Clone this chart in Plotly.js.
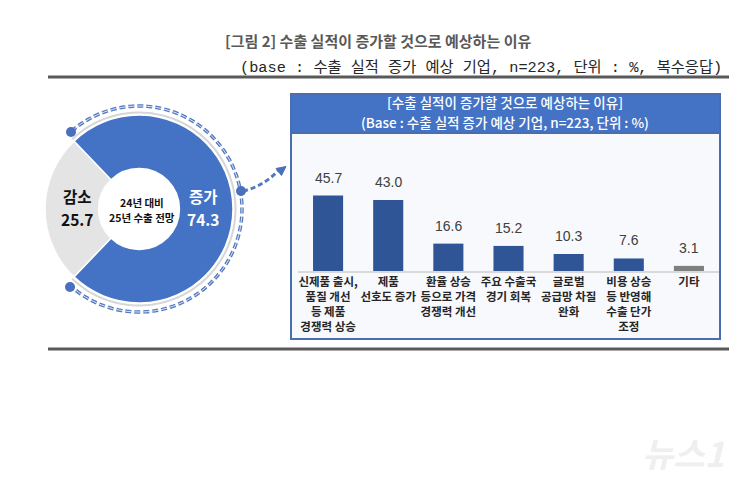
<!DOCTYPE html>
<html><head><meta charset="utf-8">
<script src="https://cdn.plot.ly/plotly-3.0.1.min.js"></script>
<style>html,body{margin:0;padding:0;background:#fff}#chart{width:753px;height:487px}</style>
</head><body><div id="chart"></div>
<script>
// ---- data ----
const donutLabels = ['감소', '증가'];
const donutValues = [25.7, 74.3];
const barCategories = [
  '신제품 출시,<br>품질 개선<br>등 제품<br>경쟁력 상승',
  '제품<br>선호도 증가',
  '환율 상승<br>등으로 가격<br>경쟁력 개선',
  '주요 수출국<br>경기 회복',
  '글로벌<br>공급망 차질<br>완화',
  '비용 상승<br>등 반영해<br>수출 단가<br>조정',
  '기타'
];
const barValues = [45.7, 43.0, 16.6, 15.2, 10.3, 7.6, 3.1];
const barColors = ['#2f5597','#2f5597','#2f5597','#2f5597','#2f5597','#2f5597','#7f7f7f'];
const mainTitle = '[그림 2] 수출 실적이 증가할 것으로 예상하는 이유';
const subTitle = '(base : 수출 실적 증가 예상 기업, n=223, 단위 : %, 복수응답)';
const panelTitle1 = '[수출 실적이 증가할 것으로 예상하는 이유]';
const panelTitle2 = '(Base : 수출 실적 증가 예상 기업, n=223, 단위 : %)';
const centerText1 = '24년 대비';
const centerText2 = '25년 수출 전망';

// ---- layout helpers (pixel -> paper) ----
const W = 753, H = 487;
const px = x => x / W, py = y => 1 - y / H;
const KR = '"Noto Sans CJK KR", "Noto Sans", sans-serif';

function arcPath(cx, cy, r, a0, a1, n) {
  let s = '';
  for (let i = 0; i <= n; i++) {
    const a = (a0 + (a1 - a0) * i / n) * Math.PI / 180;
    const x = cx + r * Math.cos(a), y = cy - r * Math.sin(a);
    s += (i ? 'L' : 'M') + px(x).toFixed(5) + ',' + py(y).toFixed(5);
  }
  return s;
}
function P(pts) { return pts.map((p, i) => (i ? 'L' : 'M') + px(p[0]).toFixed(5) + ',' + py(p[1]).toFixed(5)).join('') + 'Z'; }

const cx = 139, cy = 209, R = 94;
const half = donutValues[0] / 100 * 180;

const traces = [
  {
    type: 'pie', labels: donutLabels, values: donutValues, sort: false,
    direction: 'clockwise', rotation: 270 - half, hole: 0.43,
    marker: { colors: ['#e4e4e4', '#4472c4'], line: { color: '#ffffff', width: 1.5 } },
    textinfo: 'none', hoverinfo: 'none', showlegend: false,
    domain: { x: [px(cx - R), px(cx + R)], y: [py(cy + R), py(cy - R)] }
  },
  {
    type: 'bar', x: barCategories, y: barValues,
    marker: { color: barColors }, hoverinfo: 'none', showlegend: false,
    xaxis: 'x', yaxis: 'y'
  }
];

const shapes = [
  { type: 'line', xref: 'paper', yref: 'paper', x0: px(48), x1: px(729), y0: py(77), y1: py(77), line: { color: '#595959', width: 3 } },
  { type: 'line', xref: 'paper', yref: 'paper', x0: px(48), x1: px(729), y0: py(349), y1: py(349), line: { color: '#595959', width: 3 } },
  { type: 'rect', layer: 'below', xref: 'paper', yref: 'paper', x0: px(291), x1: px(720), y0: py(339), y1: py(94), fillcolor: '#f7f9fd', line: { color: '#4a6db0', width: 2 } },
  { type: 'rect', layer: 'below', xref: 'paper', yref: 'paper', x0: px(291), x1: px(720), y0: py(133), y1: py(94), fillcolor: '#4472c4', line: { color: '#4a6db0', width: 2 } },
  { type: 'path', xref: 'paper', yref: 'paper', path: arcPath(cx, cy, 96.5, 180 - half, -(180 - half), 120), line: { color: '#d6d6d6', width: 2 } },
  { type: 'path', xref: 'paper', yref: 'paper', path: arcPath(cx, cy, 103, 131, -131, 160), line: { color: '#5479c2', width: 3.5, dash: '6px,3px' } },
  { type: 'path', xref: 'paper', yref: 'paper', path: arcPath(cx, cy, 103, 131, -131, 160), line: { color: '#e3eaf6', width: 1, dash: '6px,3px' } },
  { type: 'path', xref: 'paper', yref: 'paper', path: 'M' + px(243) + ',' + py(191) + 'Q' + px(262) + ',' + py(187) + ' ' + px(278) + ',' + py(171), line: { color: '#5479c2', width: 3, dash: '5px,3px' } },
  { type: 'path', xref: 'paper', yref: 'paper', path: P([[286, 166.5], [281.5, 175.5], [276, 168.5]]), fillcolor: '#4a6fbd', line: { color: '#4a6fbd', width: 1 } },
  { type: 'circle', xref: 'paper', yref: 'paper', x0: px(66), x1: px(76), y0: py(137), y1: py(127), fillcolor: '#4a6fbd', line: { width: 0 } },
  { type: 'circle', xref: 'paper', yref: 'paper', x0: px(65), x1: px(75), y0: py(292), y1: py(282), fillcolor: '#4a6fbd', line: { width: 0 } },
  { type: 'circle', xref: 'paper', yref: 'paper', x0: px(236), x1: px(246), y0: py(196), y1: py(186), fillcolor: '#4a6fbd', line: { width: 0 } }
];

function note(x, y, text, font, xanchor) {
  return { xref: 'paper', yref: 'paper', x: px(x), y: py(y), text: text, showarrow: false, borderpad: 0,
           xanchor: xanchor || 'center', yanchor: 'middle', font: font };
}
const annotations = [
  note(378, 41, mainTitle, { family: KR, size: 15, color: '#595959', weight: 'bold' }),
  note(723, 68, subTitle, { family: '"Liberation Mono", "Noto Sans CJK KR", monospace', size: 15.3, color: '#262626' }, 'right'),
  note(505.5, 102.5, panelTitle1, { family: KR, size: 13.5, color: '#ffffff', weight: 500 }),
  note(505.5, 122, panelTitle2, { family: KR, size: 13.5, color: '#ffffff', weight: 500 }),
  note(77, 196, donutLabels[0], { family: KR, size: 15.5, color: '#111111', weight: 'bold' }),
  note(77, 219, donutValues[0].toFixed(1), { family: KR, size: 15.5, color: '#111111', weight: 'bold' }),
  note(203, 196, donutLabels[1], { family: KR, size: 15.5, color: '#ffffff', weight: 'bold' }),
  note(203, 219, donutValues[1].toFixed(1), { family: KR, size: 15.5, color: '#ffffff', weight: 'bold' }),
  note(142, 202, centerText1, { family: KR, size: 10.5, color: '#111111', weight: 'bold' }),
  note(142, 217, centerText2, { family: KR, size: 10.5, color: '#111111', weight: 'bold' }),
  note(683, 452, '<i>뉴스1</i>', { family: KR, size: 34, color: '#efefef', weight: 'bold' })
];
barValues.forEach((v, i) => annotations.push({
  xref: 'x', yref: 'y', x: barCategories[i], y: v, text: v.toFixed(1), showarrow: false,
  xanchor: 'center', yanchor: 'bottom', yshift: 8,
  font: { family: '"Liberation Sans", Arial, sans-serif', size: 14, color: '#404040' }
}));

const layout = {
  width: W, height: H, margin: { l: 0, r: 0, t: 0, b: 0 },
  paper_bgcolor: '#ffffff', plot_bgcolor: 'rgba(0,0,0,0)',
  showlegend: false, bargap: 0.5,
  xaxis: { domain: [px(298), px(719)], showline: true, linecolor: '#d9d9d9', linewidth: 1.5, ticks: '', showgrid: false, zeroline: false,
           tickfont: { family: KR, size: 11.5, color: '#262626', weight: 'bold' }, tickangle: 0, fixedrange: true },
  yaxis: { domain: [py(271), py(139)], range: [0, 80], visible: false, showgrid: false, zeroline: false, fixedrange: true },
  shapes: shapes, annotations: annotations
};
Plotly.newPlot('chart', traces, layout, { displayModeBar: false, staticPlot: true });
</script></body></html>
